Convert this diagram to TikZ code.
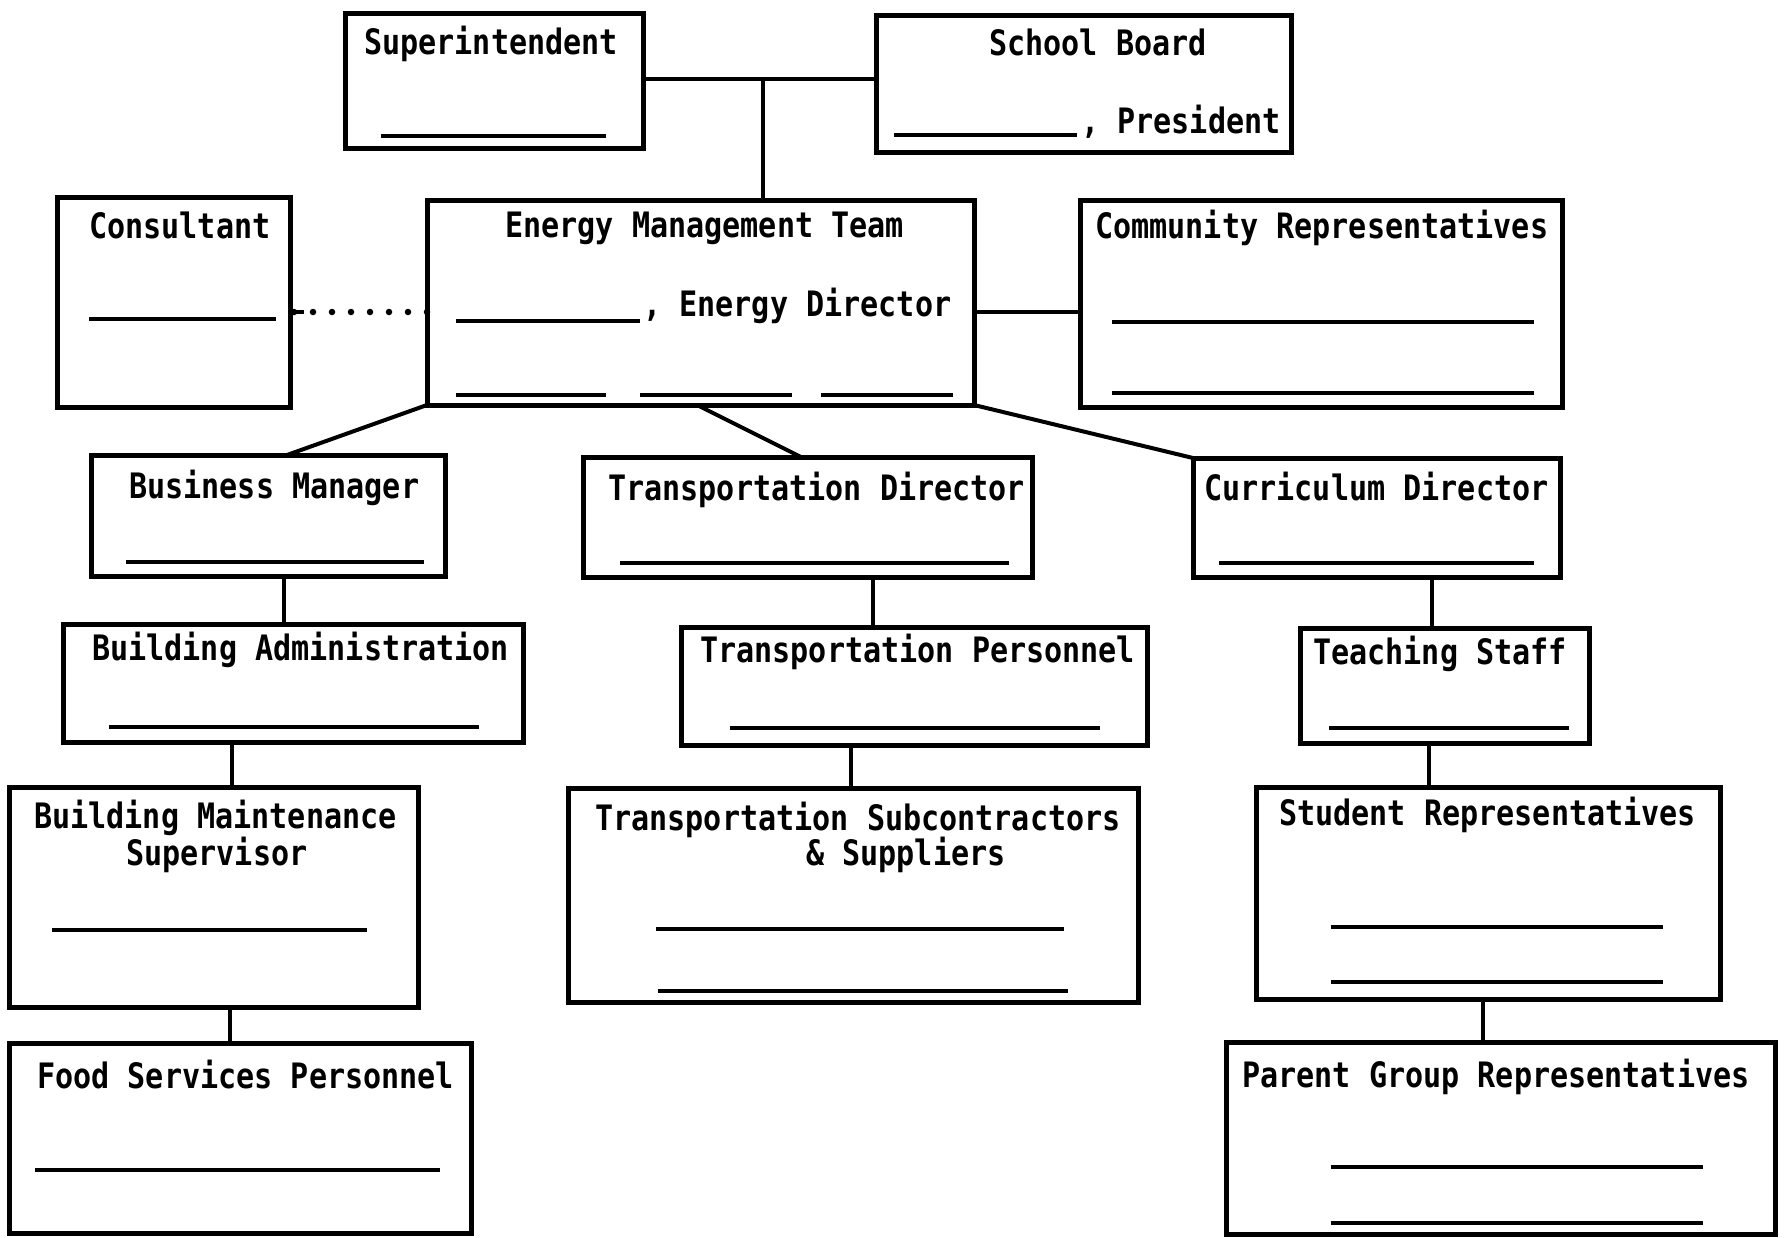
\documentclass[tikz,border=0pt]{standalone}
\usepackage{fontspec}
\newfontfamily\tw[FakeStretch=0.86]{DejaVu Sans Mono}
\tikzset{
  orgbx/.style={draw, line width=5pt, rectangle, inner sep=0pt, outer sep=0pt},
  lbl/.style={anchor=base west, inner sep=0pt, font=\tw\bfseries\fontsize{35}{38}\selectfont},
  blankln/.style={line width=3.5pt},
  conn/.style={line width=4pt},
  dotconn/.style={line width=6.5pt, line cap=round, dash pattern=on 0pt off 19pt}
}
\newcommand\orgbox[5]{\node[orgbx, minimum width={#4-#2}, minimum height={#5-#3}] (#1) at ({(#2+#4)/2},{(#3+#5)/2}) {};}
\newcommand\lbl[4]{\node[lbl] (#1) at (#2,#3) {#4};}
\newcommand\blank[3]{\draw[blankln] (#1,#3) -- (#2,#3);}
\begin{document}
\begin{tikzpicture}[x=1pt,y=-1pt]
\fill[white] (0,0) rectangle (1784,1237);
\useasboundingbox (0,0) rectangle (1784,1237);

% boxes
\orgbox{sup}{345}{13}{643}{148}
\orgbox{sb}{876}{15}{1291}{152}
\orgbox{cons}{57}{197}{290}{407}
\orgbox{emt}{427}{200}{974}{405}
\orgbox{comm}{1080}{200}{1562}{407}
\orgbox{bm}{91}{455}{445}{576}
\orgbox{td}{583}{457}{1032}{577}
\orgbox{cd}{1193}{458}{1560}{577}
\orgbox{ba}{63}{624}{523}{742}
\orgbox{tp}{681}{627}{1147}{745}
\orgbox{ts}{1300}{628}{1589}{743}
\orgbox{bms}{9}{787}{418}{1007}
\orgbox{tss}{568}{788}{1138}{1002}
\orgbox{sr}{1256}{787}{1720}{999}
\orgbox{fsp}{9}{1043}{471}{1233}
\orgbox{pgr}{1226}{1042}{1775}{1234}

% labels
\lbl{tsup}{364}{54}{Superintendent}
\lbl{tsb}{989}{55}{School Board}
\lbl{tpres}{1081}{133}{, President}
\lbl{tcons}{89}{238}{Consultant}
\lbl{temt}{505}{237}{Energy Management Team}
\lbl{ted}{643}{316}{, Energy Director}
\lbl{tcomm}{1095}{238}{Community Representatives}
\lbl{tbm}{129}{498}{Business Manager}
\lbl{ttd}{608}{500}{Transportation Director}
\lbl{tcd}{1204}{500}{Curriculum Director}
\lbl{tba}{92}{660}{Building Administration}
\lbl{ttp}{700}{662}{Transportation Personnel}
\lbl{tts}{1313}{664}{Teaching Staff}
\lbl{tbms}{34}{828}{Building Maintenance}
\lbl{tbmsb}{126}{865}{Supervisor}
\lbl{ttss}{595}{830}{Transportation Subcontractors}
\lbl{ttssb}{806}{865}{\& Suppliers}
\lbl{tsr}{1279}{825}{Student Representatives}
\lbl{tfsp}{37}{1088}{Food Services Personnel}
\lbl{tpgr}{1242}{1087}{Parent Group Representatives}

% blank lines
\blank{381}{606}{136}
\blank{894}{1077}{135}
\blank{89}{276}{319}
\blank{456}{640}{321}
\blank{456}{606}{395}
\blank{640}{792}{395}
\blank{821}{953}{395}
\blank{1112}{1534}{322}
\blank{1112}{1534}{393}
\blank{126}{424}{562}
\blank{620}{1009}{563}
\blank{1219}{1534}{563}
\blank{109}{479}{727}
\blank{730}{1100}{728}
\blank{1329}{1569}{728}
\blank{52}{367}{930}
\blank{656}{1064}{929}
\blank{658}{1068}{991}
\blank{1331}{1663}{927}
\blank{1331}{1663}{982}
\blank{35}{440}{1170}
\blank{1331}{1703}{1167}
\blank{1331}{1703}{1223}

% connectors
\coordinate (jx) at (763,79);
\draw[conn] (sup.east |- jx) -- (sb.west |- jx);
\draw[conn] (jx) -- (jx |- emt.north);
\coordinate (dy) at (0,312);
\draw[dotconn] (emt.west |- dy) -- (cons.east |- dy);
\draw[conn] (cons.east |- dy) -- ([xshift=14pt]cons.east |- dy);
\draw[conn] (emt.east |- dy) -- (comm.west |- dy);
\draw[conn] (emt.south west) -- ([xshift=196pt]bm.north west);
\draw[conn] ([xshift=270pt]emt.south west) -- ([xshift=218pt]td.north west);
\draw[conn] (emt.south east) -- (cd.north west);
\coordinate (v1) at (284,0);
\coordinate (v2) at (232,0);
\coordinate (v3) at (230,0);
\coordinate (v4) at (873,0);
\coordinate (v5) at (851,0);
\coordinate (v6) at (1432,0);
\coordinate (v7) at (1429,0);
\coordinate (v8) at (1483,0);
\draw[conn] (v1 |- bm.south) -- (v1 |- ba.north);
\draw[conn] (v2 |- ba.south) -- (v2 |- bms.north);
\draw[conn] (v3 |- bms.south) -- (v3 |- fsp.north);
\draw[conn] (v4 |- td.south) -- (v4 |- tp.north);
\draw[conn] (v5 |- tp.south) -- (v5 |- tss.north);
\draw[conn] (v6 |- cd.south) -- (v6 |- ts.north);
\draw[conn] (v7 |- ts.south) -- (v7 |- sr.north);
\draw[conn] (v8 |- sr.south) -- (v8 |- pgr.north);
\end{tikzpicture}
\end{document}
